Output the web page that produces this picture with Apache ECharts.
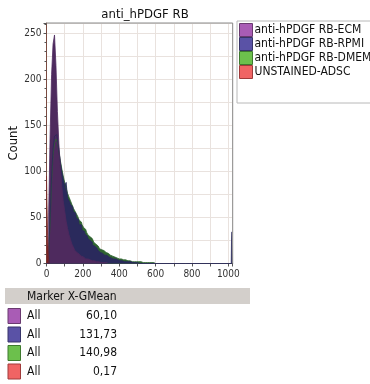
<!DOCTYPE html>
<html>
<head>
<meta charset="utf-8">
<script src="https://cdn.jsdelivr.net/npm/echarts@6/dist/echarts.min.js"></script>
<style>
  html, body { margin: 0; padding: 0; background: #fff; }
  #chart { width: 370px; height: 384px; }
</style>
</head>
<body>
<div id="chart"></div>
<script>
// channel width of the histogram bins
var binWidth = 8;

var seriesNames = ['anti-hPDGF RB-ECM', 'anti-hPDGF RB-RPMI', 'anti-hPDGF RB-DMEM', 'UNSTAINED-ADSC'];

// counts per bin (bin i starts at channel i * binWidth)
var ecmCounts = [0, 0, 55, 140, 205, 238, 248, 215, 165, 130, 106, 84, 68, 57, 46, 38,
  31, 26, 21, 18, 14, 12, 10, 9, 8, 7, 6, 5, 5, 4, 4, 3, 3, 3, 2, 2, 2, 1, 2, 1, 1, 1, 1];
var rpmiCounts = [0, 0, 15, 50, 95, 125, 138, 140, 135, 122, 110, 100, 92, 84, 88, 71,
  68, 64, 62, 56, 55, 49, 48, 42, 42, 36, 35, 32, 30, 27, 25, 23, 20, 19, 17, 15,
  14, 12, 11, 10, 9, 9, 8, 7, 6, 6, 5, 5, 4, 4, 3, 3, 3, 2, 2, 2, 2, 1, 2, 1, 1, 1, 1, 1, 0];
var dmemCounts = [0, 0, 12, 45, 88, 118, 130, 135, 132, 122, 112, 103, 95, 88, 82, 76,
  72, 68, 64, 60, 57, 54, 51, 47, 45, 42, 39, 37, 34, 31, 29, 27, 25, 23, 21, 19,
  18, 16, 15, 14, 13, 12, 11, 10, 9, 8, 8, 7, 6, 6, 5, 5, 4, 4, 4, 3, 3, 3, 3, 2,
  2, 2, 2, 2, 1, 2, 1, 1, 1, 1, 1, 1, 1, 0, 1, 0];
// unstained control sits right at the bottom of the scale
var unstainedChannels = [0, 4, 8, 12, 16];
var unstainedCounts = [95, 72, 30, 8, 0];
// off-scale pile-up at the top channel of the RPMI sample
var rpmiEdgeChannels = [1016, 1020, 1024];
var rpmiEdgeCounts = [0, 34, 34];

var xTicks = [0, 200, 400, 600, 800, 1000];
var yTicks = [0, 50, 100, 150, 200, 250];

var markerLabels = ['All', 'All', 'All', 'All'];
var markerGMeans = ['60,10', '131,73', '140,98', '0,17'];

var fillColors = ['#4e2a5e', '#2a2a5c', '#2f6330', '#7a2323'];
var keyColors = ['#a95cb5', '#5a52a6', '#6cc04c', '#f06464'];
var keyBorders = ['#6a3a70', '#38356a', '#3e7a2e', '#a03a3a'];

var FONT = "'DejaVu Sans Condensed', 'Liberation Sans Narrow', sans-serif";

function toPairs(counts) {
    var out = [];
    for (var i = 0; i < counts.length; i++) {
        out.push([i * binWidth, counts[i]]);
    }
    return out;
}

function zip(xs, ys) {
    var out = [];
    for (var i = 0; i < xs.length; i++) {
        out.push([xs[i], ys[i]]);
    }
    return out;
}

function histSeries(idx, data) {
    return {
        name: seriesNames[idx],
        type: 'line',
        step: 'middle',
        symbol: 'none',
        data: data,
        itemStyle: { color: fillColors[idx] },
        lineStyle: { color: fillColors[idx], width: 0.8 },
        areaStyle: { color: fillColors[idx], opacity: 1 },
        animation: false
    };
}

var chart = echarts.init(document.getElementById('chart'), null, { renderer: 'canvas' });

// table below the plot
var graphics = [
    { type: 'rect', shape: { x: 5, y: 288, width: 245, height: 16 }, style: { fill: '#d3cfcb' } },
    { type: 'text', x: 27, y: 297, style: { text: 'Marker X-GMean', font: '12px ' + FONT, fill: '#111', verticalAlign: 'middle' } }
];
for (var r = 0; r < markerGMeans.length; r++) {
    var cy = 316 + r * 18.5;
    graphics.push({ type: 'rect', shape: { x: 8, y: cy - 7.5, width: 12.5, height: 15 },
        style: { fill: keyColors[r], stroke: keyBorders[r], lineWidth: 1 } });
    graphics.push({ type: 'text', x: 27, y: cy, style: { text: markerLabels[r], font: '12px ' + FONT, fill: '#111', verticalAlign: 'middle' } });
    graphics.push({ type: 'text', x: 117, y: cy, style: { text: markerGMeans[r], font: '12px ' + FONT, fill: '#111', align: 'right', verticalAlign: 'middle' } });
}

var option = {
    animation: false,
    textStyle: { fontFamily: FONT },
    title: {
        text: 'anti_hPDGF RB',
        left: 140,
        textAlign: 'center',
        top: 3,
        textStyle: { fontSize: 13, fontWeight: 'normal', color: '#111', fontFamily: FONT }
    },
    legend: {
        orient: 'vertical',
        left: 237,
        top: 21,
        padding: [2, 40, 24, 2],
        itemGap: 0,
        itemWidth: 13,
        itemHeight: 13,
        icon: 'rect',
        backgroundColor: '#fff',
        borderColor: '#b8b8b8',
        borderWidth: 1,
        textStyle: { fontSize: 12, color: '#111', fontFamily: FONT, padding: [0, 0, 0, -3], lineHeight: 14 },
        data: seriesNames.map(function (n, i) {
            return { name: n, itemStyle: { color: keyColors[i], borderColor: keyBorders[i], borderWidth: 1 } };
        })
    },
    grid: { left: 46.5, right: 137.3, top: 23, bottom: 120.5, outerBoundsMode: 'none', containLabel: false },
    xAxis: {
        type: 'value',
        min: 0,
        max: 1024,
        interval: 100,
        axisLine: { show: true, lineStyle: { color: '#555', width: 1 } },
        axisTick: { show: true, length: 3, lineStyle: { color: '#555' } },
        axisLabel: {
            fontSize: 10, color: '#333', margin: 6, fontFamily: FONT,
            formatter: function (v) { return xTicks.indexOf(v) >= 0 ? String(v) : ''; }
        },
        splitLine: { show: true, lineStyle: { color: '#e9e2de', width: 1 } }
    },
    yAxis: [{
        type: 'value',
        min: 0,
        max: 261,
        interval: 50,
        name: 'Count',
        nameLocation: 'middle',
        nameGap: 26,
        nameMoveOverlap: false,
        nameTextStyle: { fontSize: 13, color: '#111', fontFamily: FONT },
        axisLine: { show: true, lineStyle: { color: '#7a4a40', width: 1 } },
        axisTick: { show: true, length: 3, lineStyle: { color: '#555' } },
        minorTick: { show: true, splitNumber: 5, length: 2, lineStyle: { color: '#555' } },
        axisLabel: {
            fontSize: 10, color: '#333', margin: 5, fontFamily: FONT,
            formatter: function (v) { return yTicks.indexOf(v) >= 0 ? String(v) : ''; }
        },
        splitLine: { show: false }
    }, {
        // only the finer horizontal grid lines, every 25 counts
        type: 'value',
        min: 0,
        max: 261,
        interval: 25,
        position: 'left',
        axisLine: { show: false },
        axisTick: { show: false },
        axisLabel: { show: false },
        splitLine: { show: true, lineStyle: { color: '#e9e2de', width: 1 } }
    }],
    graphic: graphics.concat([
        // plot frame: top and right edges
        { type: 'polyline', shape: { points: [[46.5, 23], [232.7, 23], [232.7, 263.5]] },
          style: { stroke: '#8a8a8a', lineWidth: 1, fill: null }, z: 10 }
    ]),
    series: [
        histSeries(2, toPairs(dmemCounts)),
        histSeries(1, toPairs(rpmiCounts).concat(zip(rpmiEdgeChannels, rpmiEdgeCounts))),
        histSeries(0, toPairs(ecmCounts)),
        histSeries(3, zip(unstainedChannels, unstainedCounts))
    ]
};

chart.setOption(option);
</script>
</body>
</html>
